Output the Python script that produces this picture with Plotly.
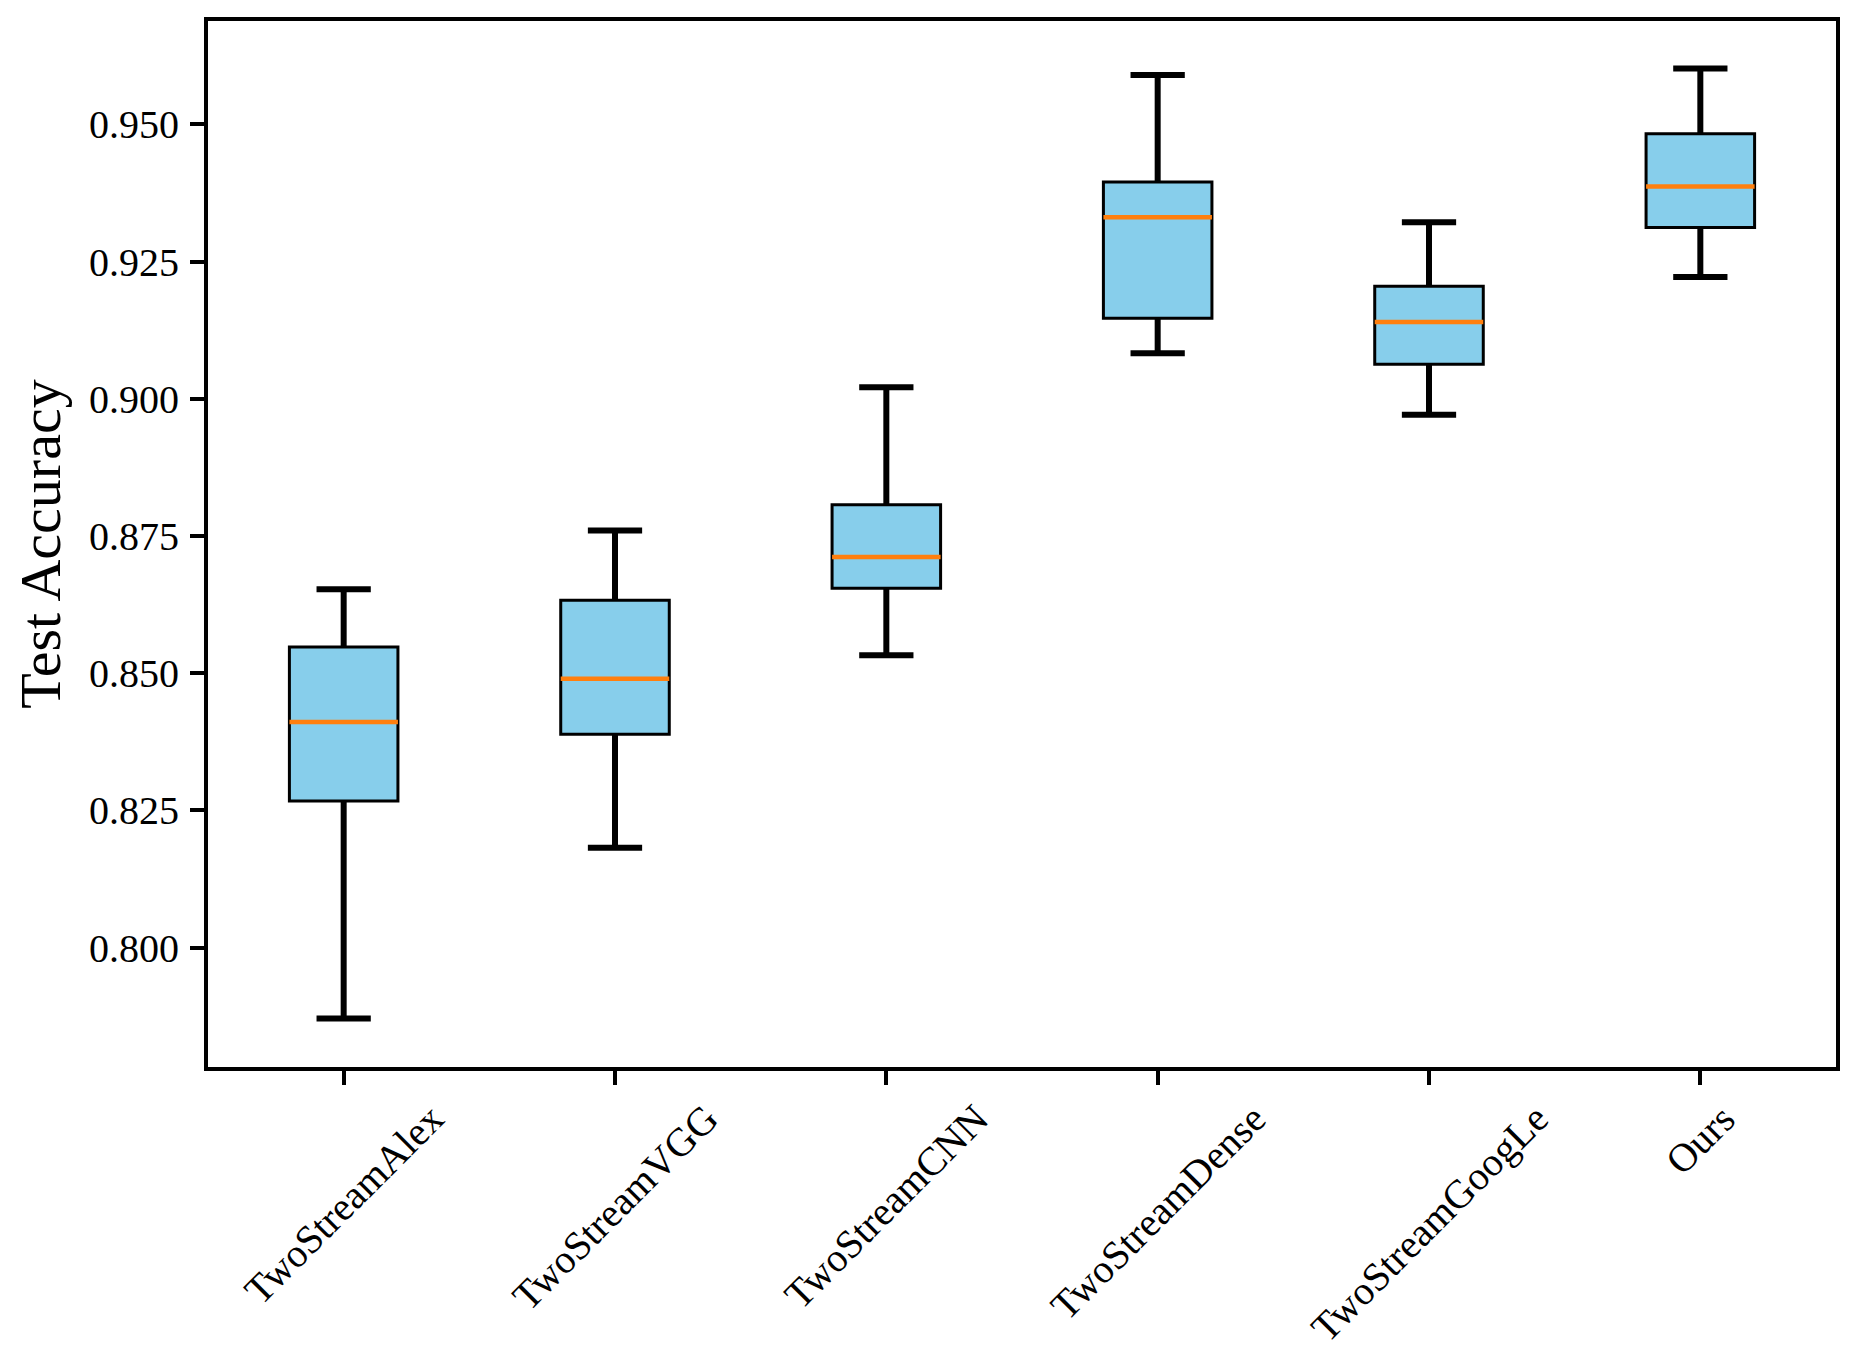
"""
Box plot de precisión en test por modelo
"""
import plotly.graph_objects as go

# Datos
models = ['TwoStreamAlex', 'TwoStreamVGG', 'TwoStreamCNN',
          'TwoStreamDense', 'TwoStreamGoogLe', 'Ours']
whis_low = [0.7871, 0.8182, 0.8533, 0.9083, 0.8971, 0.9222]
q1 = [0.8267, 0.8389, 0.8655, 0.9147, 0.9063, 0.9312]
median = [0.8411, 0.8490, 0.8712, 0.9331, 0.9140, 0.9387]
q3 = [0.8548, 0.8633, 0.8807, 0.9395, 0.9205, 0.9483]
whis_high = [0.8653, 0.8760, 0.9021, 0.9590, 0.9322, 0.9602]
y_ticks = [0.800, 0.825, 0.850, 0.875, 0.900, 0.925, 0.950]

FONT = 'Liberation Serif'
BOX_W = 0.4
CAP_W = 0.2

pos = list(range(len(models)))

fig = go.Figure()

# Cajas
fig.add_trace(go.Box(
    x=pos, q1=q1, median=median, q3=q3,
    lowerfence=q1, upperfence=q3,
    width=BOX_W, whiskerwidth=0,
    fillcolor='#87CEEB',
    line=dict(color='black', width=3),
    hoverinfo='skip',
    showlegend=False
))

# Bigotes y topes
wx, wy = [], []
for i in pos:
    wx += [i, i, None, i, i, None]
    wy += [q3[i], whis_high[i], None, q1[i], whis_low[i], None]
    wx += [i - CAP_W / 2, i + CAP_W / 2, None, i - CAP_W / 2, i + CAP_W / 2, None]
    wy += [whis_high[i], whis_high[i], None, whis_low[i], whis_low[i], None]

fig.add_trace(go.Scatter(
    x=wx, y=wy, mode='lines',
    line=dict(color='black', width=6),
    hoverinfo='skip', showlegend=False
))

# Medianas
mx, my = [], []
for i in pos:
    mx += [i - BOX_W / 2, i + BOX_W / 2, None]
    my += [median[i], median[i], None]

fig.add_trace(go.Scatter(
    x=mx, y=my, mode='lines',
    line=dict(color='#ff7f0e', width=4.5),
    hoverinfo='skip', showlegend=False
))

# Etiquetas rotadas centradas en cada tick
for i, name in zip(pos, models):
    fig.add_annotation(
        x=i, y=0, xref='x', yref='paper',
        text=name, textangle=-45, showarrow=False,
        xanchor='center', yanchor='top', yshift=-26,
        font=dict(family=FONT, size=40, color='black')
    )

# el body del html tiene 8px de margen, se compensa en el tamaño
fig.update_layout(
    width=1844, height=1348,
    margin=dict(l=200, r=16, t=8.5, b=289),
    plot_bgcolor='white', paper_bgcolor='white',
    font=dict(family=FONT, color='black'),
    showlegend=False
)

fig.update_xaxes(
    range=[-0.5, 5.5], tickvals=pos, showticklabels=False,
    ticks='outside', ticklen=14, tickwidth=4, tickcolor='black',
    showline=True, linecolor='black', linewidth=4, mirror=True,
    showgrid=False, zeroline=False
)

fig.update_yaxes(
    range=[0.77825, 0.96885], tickvals=y_ticks, tickformat='.3f',
    ticks='outside', ticklen=14, tickwidth=4, tickcolor='black',
    tickfont=dict(family=FONT, size=40, color='black'),
    ticklabelstandoff=3,
    showline=True, linecolor='black', linewidth=4, mirror=True,
    showgrid=False, zeroline=False,
    title=dict(text='Test Accuracy', font=dict(family=FONT, size=58, color='black'),
               standoff=16)
)

fig.write_html("out.html")
